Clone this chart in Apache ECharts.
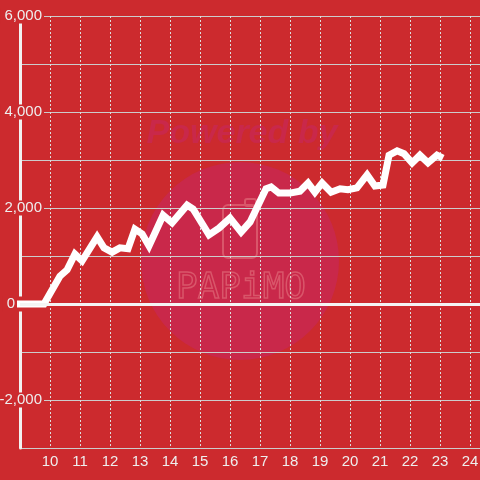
<!DOCTYPE html>
<html>
<head>
<meta charset="utf-8">
<script src="https://cdn.jsdelivr.net/npm/echarts@6/dist/echarts.min.js"></script>
<style>html,body{margin:0;padding:0;background:#cc2a2e}#c{width:480px;height:480px}</style>
</head>
<body>
<div id="c"></div>
<script>
// x values (hours) and y values (balance)
const xs = [8.9, 9.8, 10.33, 10.57, 10.83, 11.07, 11.57, 11.8, 12.07, 12.33, 12.6, 12.83, 13.07, 13.3, 13.77, 14.07, 14.57, 14.77, 15.3, 15.63, 16.0, 16.37, 16.67, 17.2, 17.37, 17.63, 18.0, 18.33, 18.6, 18.83, 19.07, 19.37, 19.67, 19.93, 20.23, 20.57, 20.83, 21.1, 21.3, 21.57, 21.8, 22.07, 22.33, 22.6, 22.9, 23.1];
const ys = [0, 0, 580, 710, 1040, 900, 1400, 1170, 1080, 1170, 1150, 1560, 1460, 1210, 1850, 1690, 2060, 1980, 1440, 1580, 1790, 1500, 1710, 2400, 2440, 2310, 2310, 2350, 2520, 2330, 2520, 2330, 2400, 2380, 2420, 2690, 2460, 2480, 3100, 3190, 3130, 2940, 3100, 2940, 3100, 3040];
const yMin = -3000, yMax = 6000, yStep = 1000;
const xMin = 9, xMax = 24.333, xStep = 1;

const bg = '#cc2a2e';
const data = xs.map((x, i) => [x, ys[i]]);
const chart = echarts.init(document.getElementById('c'));
const fontFamily = 'Liberation Sans, Arial, sans-serif';
chart.setOption({
  backgroundColor: bg,
  animation: false,
  grid: { left: 20, right: 0, top: 16, bottom: 32, containLabel: false, outerBoundsMode: 'none' },
  graphic: [
    { type: 'circle', z: -10, shape: { cx: 240, cy: 261, r: 99 }, style: { fill: '#c9284a' } },
    { type: 'text', z: -9, x: 242, y: 134, style: { text: 'Powered by', fill: '#c9284a', font: 'italic bold 34px "Liberation Sans", Arial, sans-serif', align: 'center', verticalAlign: 'middle' } },
    { type: 'rect', z: -9, shape: { x: 223, y: 205, width: 34, height: 53, r: 5 }, style: { fill: 'none', stroke: '#d9566a', lineWidth: 2 } },
    { type: 'rect', z: -9, shape: { x: 245, y: 199, width: 11, height: 7, r: 2 }, style: { fill: 'none', stroke: '#d9566a', lineWidth: 2 } },
    { type: 'text', z: -9, x: 241, y: 289, style: { text: 'PAPiMO', fill: 'none', stroke: '#d9566a', lineWidth: 1.5, font: '36px "DejaVu Sans Mono", monospace', align: 'center', verticalAlign: 'middle' } }
  ],
  xAxis: {
    type: 'value', min: xMin, max: xMax, interval: xStep,
    axisLine: { show: true, lineStyle: { color: '#cccccc', width: 1 } },
    axisTick: { show: false },
    axisLabel: { color: '#eeeeee', fontSize: 15, fontFamily, margin: 6, showMinLabel: false, showMaxLabel: false },
    splitLine: { show: true, lineStyle: { color: '#dddddd', width: 1, type: [2, 2] } }
  },
  yAxis: [
    {
      type: 'value', min: yMin, max: yMax, interval: yStep, z: 0,
      axisLine: { show: true, onZero: false, lineStyle: { color: '#f2f2f2', width: 3 } },
      axisTick: { show: false },
      axisLabel: { show: false },
      splitLine: { show: true, lineStyle: { color: '#cccccc', width: 1 } }
    },
    {
      type: 'value', min: yMin, max: yMax, interval: yStep, z: 1, position: 'left',
      axisLine: { show: false },
      axisTick: { show: false },
      splitLine: { show: false },
      axisLabel: {
        color: '#eeeeee', fontSize: 15, fontFamily, margin: -24,
        backgroundColor: bg, padding: [0, 2, 0, 4],
        formatter: v => v === 0 ? '{z|0}' : (v % 2000 === 0 ? v.toLocaleString('en-US') : ''),
        rich: { z: { color: '#eeeeee', fontSize: 15, fontFamily, padding: [0, 27, 0, 0] } }
      }
    }
  ],
  series: [{
    type: 'line', data, yAxisIndex: 0, showSymbol: false, clip: false, z: 3,
    lineStyle: { color: '#ffffff', width: 7, join: 'miter' },
    markLine: {
      silent: true, symbol: 'none', label: { show: false },
      lineStyle: { color: '#f4f4f4', width: 3, type: 'solid' },
      data: [{ yAxis: 0 }]
    }
  }]
});
</script>
</body>
</html>
